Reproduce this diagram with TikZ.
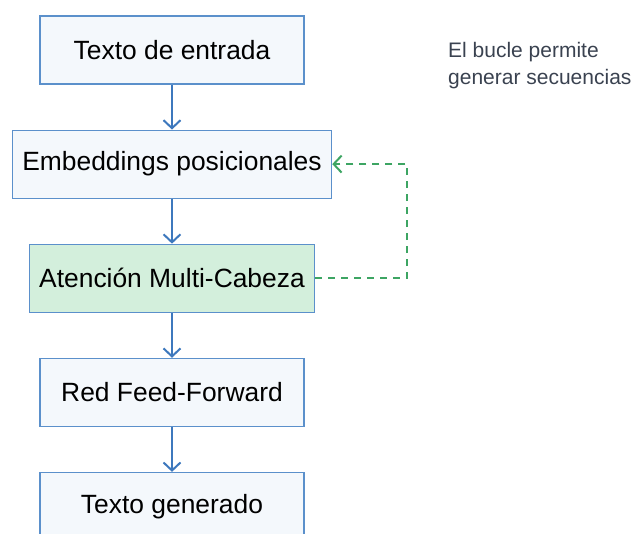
\documentclass[tikz,border=0pt]{standalone}
\usepackage{fontspec}
\setmainfont{Liberation Sans}
\usepackage{xcolor}
\usetikzlibrary{positioning, arrows.meta}
\definecolor{bordeazul}{HTML}{5B90CB}
\definecolor{fondoazul}{HTML}{F4F8FC}
\definecolor{fondoverde}{HTML}{D3EFDC}
\definecolor{flechaazul}{HTML}{3D78BD}
\definecolor{verdebucle}{HTML}{3DA563}
\definecolor{grisnota}{HTML}{3A4250}
\tikzset{
  blq/.style = {align=center, rectangle, draw=bordeazul, line width=1.1pt,
    minimum width=264pt, minimum height=68pt, inner xsep=10pt,
    font=\fontsize{26.4}{30}\selectfont},
  blq_n/.style = {blq, fill=fondoazul},% bloque normal
  blq_v/.style = {blq, fill=fondoverde},% bloque verde
  flecha/.style = {-{Straight Barb[length=8pt,width=17pt]}, line width=2pt,
    flechaazul},
  bucle/.style = {-{Straight Barb[length=8pt,width=17pt]}, line width=2pt,
    verdebucle, dash pattern=on 7pt off 6pt},
  nota/.style = {align=left, inner sep=0pt, text=grisnota,
    font=\fontsize{21}{27}\selectfont}
}

\begin{document}
\begin{tikzpicture}[x=1pt, y=1pt, node distance=45pt]
\useasboundingbox (0,0) rectangle (634,-533);
\clip (0,0) rectangle (634,-533);

\node[blq_n] (a1) at (172,-50) {Texto de entrada};
\node[blq_n, below=of a1] (a2) {Embeddings posicionales};
\node[blq_v, below=of a2] (a3) {Atención Multi-Cabeza};
\node[blq_n, below=of a3] (a4) {Red Feed-Forward};
\node[blq_n, below=of a4] (a5) {Texto generado};

\node[nota, anchor=north west] (n1) at (448,-42) {El bucle permite\\generar secuencias};

\draw[flecha] (a1) -- (a2);
\draw[flecha] (a2) -- (a3);
\draw[flecha] (a3) -- (a4);
\draw[flecha] (a4) -- (a5);
\draw[bucle] (a3.east) -- ++(92,0) |- (a2.east);
\end{tikzpicture}
\end{document}
